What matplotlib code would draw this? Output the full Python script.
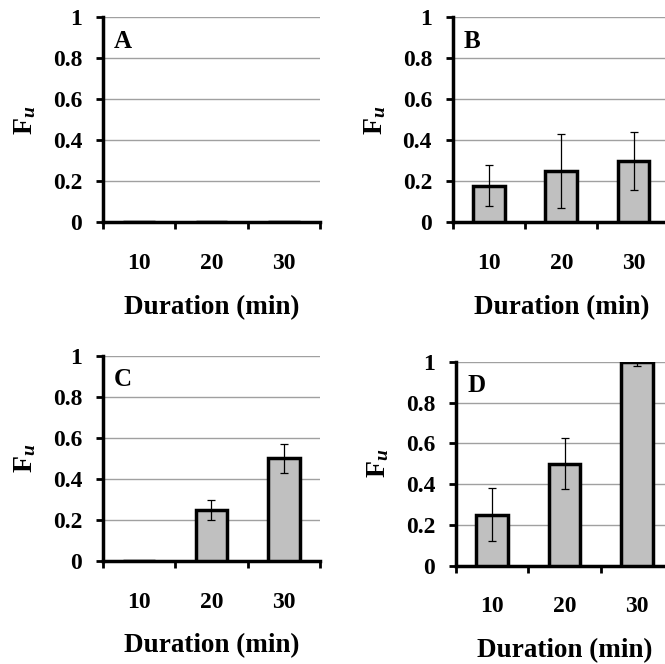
import matplotlib
matplotlib.use("Agg")
import matplotlib.pyplot as plt

plt.rcParams['font.family'] = 'Liberation Serif'
plt.rcParams['font.weight'] = 'bold'
plt.rcParams['mathtext.fontset'] = 'custom'
plt.rcParams['mathtext.rm'] = 'Liberation Serif:bold'
plt.rcParams['mathtext.it'] = 'Liberation Serif:bold:italic'

durations = ['10', '20', '30']
panels = ['A', 'B', 'C', 'D']
fu_values = {
    'A': [0.0, 0.0, 0.0],
    'B': [0.18, 0.25, 0.30],
    'C': [0.0, 0.25, 0.50],
    'D': [0.25, 0.50, 1.00],
}
fu_errors = {
    'A': [0.0, 0.0, 0.0],
    'B': [0.10, 0.18, 0.14],
    'C': [0.0, 0.05, 0.07],
    'D': [0.13, 0.125, 0.02],
}

# axes boxes in figure fraction [left, bottom, width, height]
boxes = {
    'A': [0.155, 0.665, 0.326, 0.309],
    'B': [0.681, 0.665, 0.326, 0.309],
    'C': [0.155, 0.155, 0.326, 0.309],
    'D': [0.686, 0.148, 0.326, 0.307],
}

fig = plt.figure(figsize=(6.65, 6.64), dpi=100)

for name in panels:
    ax = fig.add_axes(boxes[name])
    x = range(len(durations))
    ax.bar(x, fu_values[name], width=0.44, color='#c0c0c0',
           edgecolor='black', linewidth=2.5, zorder=3)
    err = fu_errors[name]
    idx = [i for i in x if err[i] > 0]
    if idx:
        ax.errorbar(idx, [fu_values[name][i] for i in idx],
                    yerr=[err[i] for i in idx], fmt='none', ecolor='black',
                    elinewidth=0.9, capsize=3, capthick=0.9, zorder=4)
    ax.set_xlim(-0.5, 2.5)
    ax.set_ylim(0, 1)
    ax.set_yticks([0, 0.2, 0.4, 0.6, 0.8, 1])
    ax.set_yticklabels(['0', '0.2', '0.4', '0.6', '0.8', '1'], fontsize=17)
    ax.set_xticks([-0.5, 0.5, 1.5, 2.5])
    ax.set_xticklabels([])
    ax.set_xticks([0, 1, 2], minor=True)
    ax.set_xticklabels(durations, minor=True, fontsize=17)
    ax.tick_params(axis='x', which='minor', length=0, pad=22)
    ax.tick_params(axis='x', which='major', direction='out', length=5, width=2)
    ax.tick_params(axis='y', direction='out', length=5, width=2, pad=10)
    ax.grid(axis='y', color='#a0a0a0', linewidth=1, zorder=0)
    ax.set_axisbelow(True)
    for s in ['top', 'right']:
        ax.spines[s].set_visible(False)
    ax.spines['left'].set_linewidth(2.5)
    ax.spines['bottom'].set_linewidth(2.5)
    ax.set_xlabel('Duration (min)', fontsize=19.5, fontweight='bold', labelpad=15)
    ax.set_ylabel(r'$\mathrm{F}_{u}$', fontsize=20)
    ax.yaxis.set_label_coords(-0.30, 0.5)
    ax.text(0.05, 0.94, name, transform=ax.transAxes, fontsize=18,
            fontweight='bold', va='top', ha='left')

fig.savefig('out.png', dpi=100)
